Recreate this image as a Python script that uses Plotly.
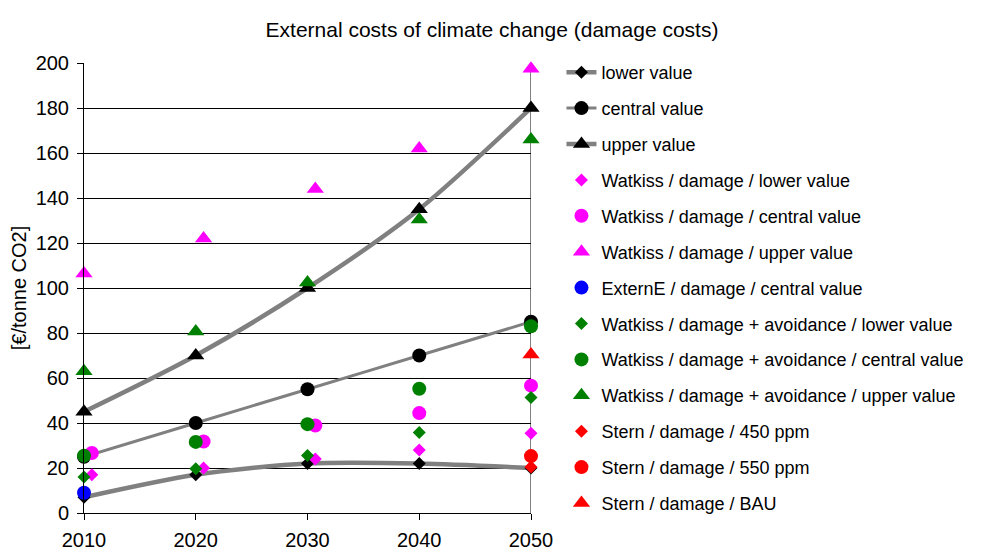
import plotly.graph_objects as go

years = [2010, 2020, 2030, 2040, 2050]
years_wd = [2010.7, 2020.7, 2030.7, 2040, 2050]   # Watkiss damage markers (slightly shifted in source)
years_wd_up = [2010, 2020.7, 2030.7, 2040, 2050]

lower_value = [7, 17, 22, 22, 20]
central_value = [25, 40, 55, 70, 85]
upper_value = [45, 70, 100, 135, 180]

watkiss_dmg_lower = [17, 20, 24, 28, 35.5]
watkiss_dmg_central = [26.7, 31.8, 38.9, 44.4, 56.6]
watkiss_dmg_upper = [106.5, 122, 144, 162, 197.5]

externe_central_x = [2010]
externe_central = [9]

watkiss_avoid_lower = [16, 19.7, 25.6, 35.8, 51.3]
watkiss_avoid_central = [25.5, 31.6, 39.5, 55.2, 83]
watkiss_avoid_upper = [63, 80.7, 102.5, 130.5, 166]

stern_x = [2050]
stern_450 = [20.5]
stern_550 = [25.3]
stern_bau = [70.5]

FONT = "Liberation Sans, Arial, sans-serif"
GREY = "#808080"
MAG = "#FF00FF"
GRN = "#008000"
RED = "#FF0000"
BLU = "#0000FF"

fig = go.Figure()

def line_trace(name, y, width, symbol, size):
    fig.add_trace(go.Scatter(
        x=years, y=y, name=name, mode="lines+markers",
        line=dict(color=GREY, width=width, shape="spline", smoothing=0.8),
        marker=dict(color="black", symbol=symbol, size=size, line=dict(width=0)),
        cliponaxis=False, legendgroup=name))

def mk_trace(name, x, y, color, symbol, size):
    fig.add_trace(go.Scatter(
        x=x, y=y, name=name, mode="markers",
        marker=dict(color=color, symbol=symbol, size=size, line=dict(width=0)),
        cliponaxis=False, legendgroup=name))

D, C, T = 10, 14, 15

line_trace("lower value", lower_value, 4.5, "diamond", D)
line_trace("central value", central_value, 3, "circle", C)
line_trace("upper value", upper_value, 4.5, "triangle-up", T)
mk_trace("Watkiss / damage / lower value", years_wd, watkiss_dmg_lower, MAG, "diamond", D)
mk_trace("Watkiss / damage / central value", years_wd, watkiss_dmg_central, MAG, "circle", C)
mk_trace("Watkiss / damage / upper value", years_wd_up, watkiss_dmg_upper, MAG, "triangle-up", T)
mk_trace("ExternE / damage / central value", externe_central_x, externe_central, BLU, "circle", C)
mk_trace("Watkiss / damage + avoidance / lower value", years, watkiss_avoid_lower, GRN, "diamond", D)
mk_trace("Watkiss / damage + avoidance / central value", years, watkiss_avoid_central, GRN, "circle", C)
mk_trace("Watkiss / damage + avoidance / upper value", years, watkiss_avoid_upper, GRN, "triangle-up", T)
mk_trace("Stern / damage / 450 ppm", stern_x, stern_450, RED, "diamond", D)
mk_trace("Stern / damage / 550 ppm", stern_x, stern_550, RED, "circle", C)
mk_trace("Stern / damage / BAU", stern_x, stern_bau, RED, "triangle-up", T)

fig.add_shape(type="line", xref="x", yref="y", x0=2050, x1=2050, y0=0, y1=200,
              line=dict(color="black", width=1), layer="below")

W, H = 979, 545
PL, PR, PT, PB = 76, 523.5, 55, 505

fig.update_layout(
    width=W, height=H,
    margin=dict(l=PL, r=W - PR, t=PT, b=H - PB, autoexpand=False),
    paper_bgcolor="white", plot_bgcolor="white",
    font=dict(family=FONT, size=18, color="black"),
    title=dict(text="External costs of climate change (damage costs)",
               x=484 / W, xanchor="center", xref="container",
               y=1 - 22 / H, yanchor="middle", yref="container",
               font=dict(size=21, family=FONT, color="black")),
    xaxis=dict(range=[2010, 2050], tickvals=years, ticktext=[str(v) for v in years],
               showgrid=False, zeroline=False, showline=True, linecolor="black", linewidth=1,
               ticks="outside", ticklen=6, tickcolor="black", tickfont=dict(size=20),
               ticklabelstandoff=3, fixedrange=True),
    yaxis=dict(range=[0, 200], dtick=20, showgrid=True, gridcolor="black", gridwidth=1,
               zeroline=False, showline=True, linecolor="black", linewidth=1,
               ticks="outside", ticklen=6, tickcolor="black", tickfont=dict(size=20),
               ticklabelstandoff=4,
               title=dict(text="[€/tonne CO2]", font=dict(size=20), standoff=4),
               fixedrange=True),
    legend=dict(x=(554 - PL) / (PR - PL), xanchor="left", y=(PB - 46) / (PB - PT), yanchor="top",
                font=dict(size=18, family=FONT), tracegroupgap=9.5, maxheight=2000,
                bgcolor="rgba(0,0,0,0)", borderwidth=0, itemclick=False),
    showlegend=True,
)

fig.write_html("out.html")
